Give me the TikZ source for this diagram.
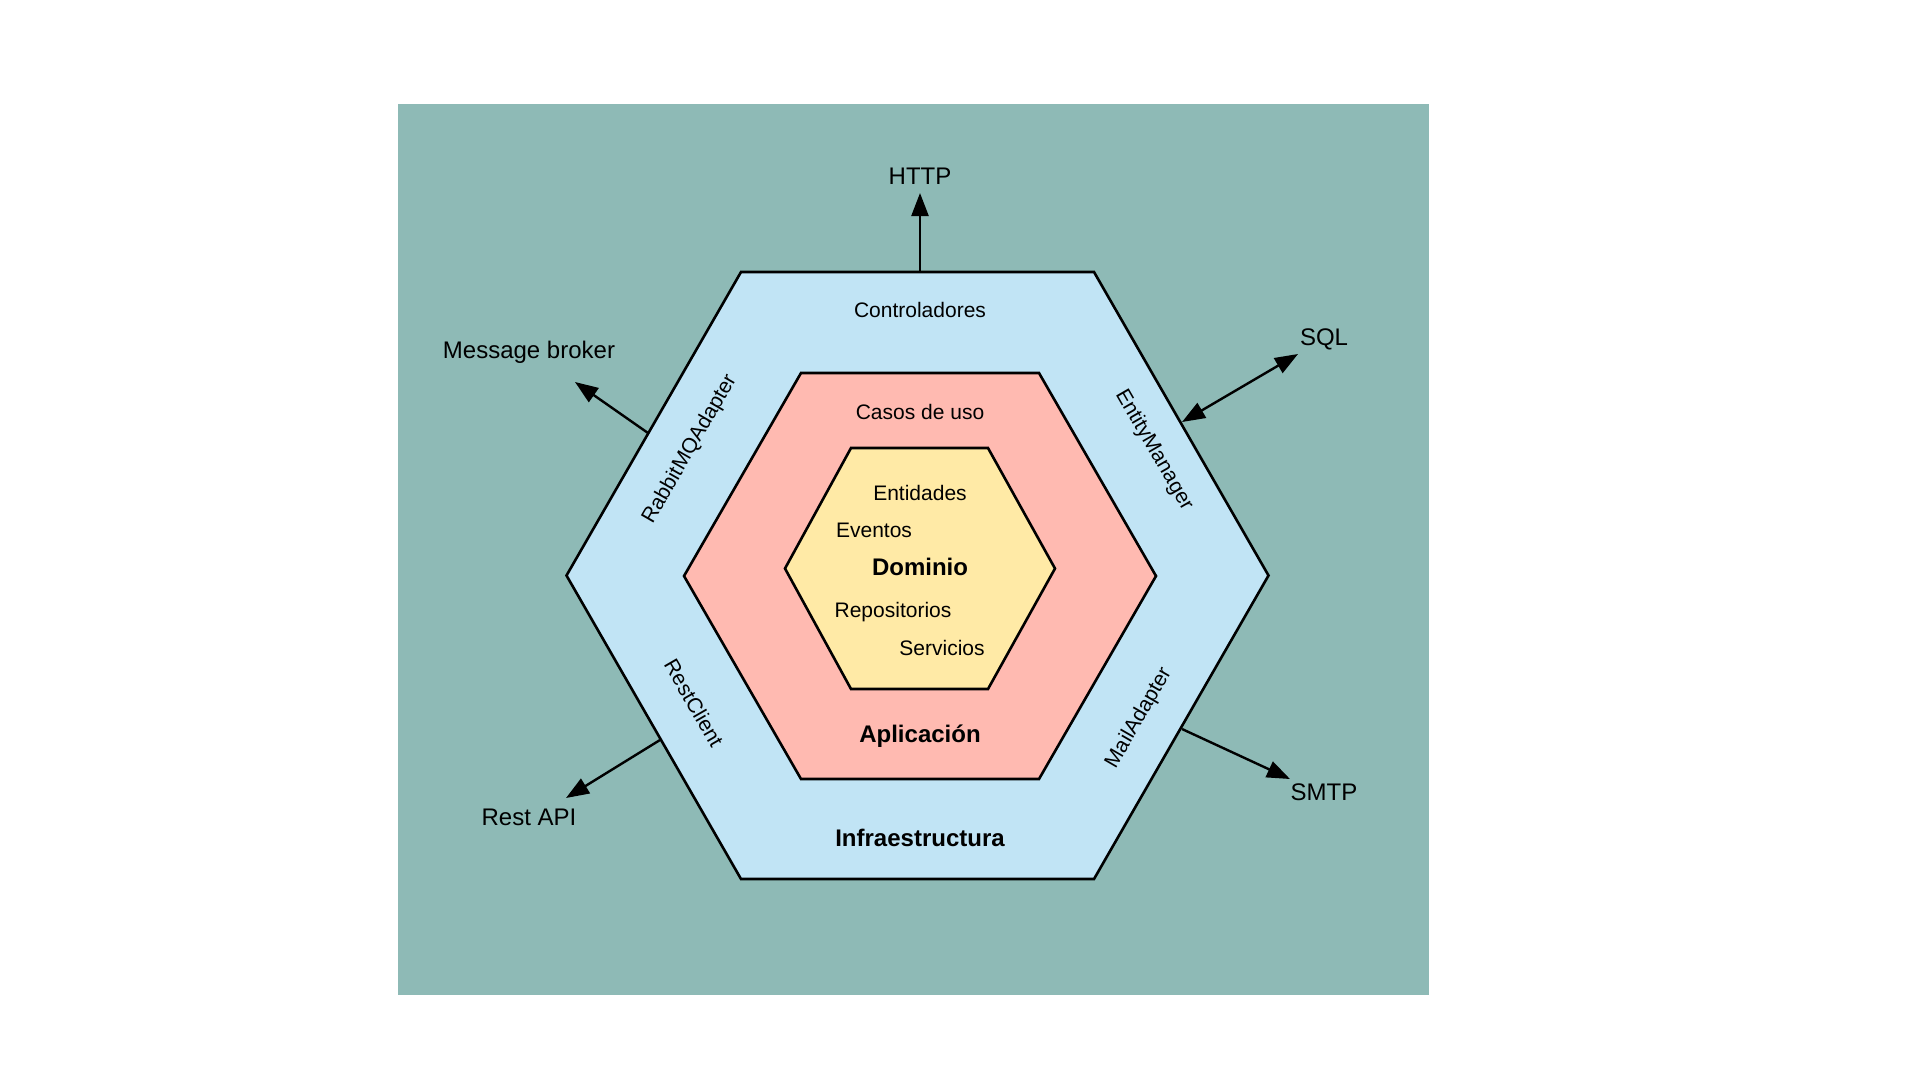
\documentclass[tikz,border=0pt]{standalone}
\usepackage{fontspec}
\setmainfont{Liberation Sans}
\usetikzlibrary{arrows.meta}
\definecolor{bgteal}{RGB}{142,186,182}
\definecolor{infrablue}{RGB}{193,228,245}
\definecolor{apppink}{RGB}{255,186,177}
\definecolor{domyellow}{RGB}{255,234,166}
\begin{document}
\begin{tikzpicture}[x=1bp,y=-1bp,
  hexline/.style={draw=black, line width=2.6bp, line join=miter},
  lbl/.style={font=\fontsize{21bp}{25bp}\selectfont, inner sep=0pt},
  blbl/.style={font=\fontsize{24bp}{29bp}\selectfont\bfseries, inner sep=0pt},
  olbl/.style={font=\fontsize{24bp}{29bp}\selectfont, inner sep=0pt},
  conn/.style={line width=2.4bp, -{Triangle[length=23bp,width=17bp]}},
  conn2/.style={line width=2.4bp, {Triangle[length=23bp,width=17bp]}-{Triangle[length=23bp,width=17bp]}},
]
\useasboundingbox (0,0) rectangle (1920,1080);
\fill[bgteal] (398,104) rectangle (1429,995);

% hexagons
\filldraw[hexline, fill=infrablue] (741,272) -- (1094,272) -- (1268.5,575.5) -- (1094,879) -- (741,879) -- (566.5,575.5) -- cycle;
\filldraw[hexline, fill=apppink] (801,373) -- (1039,373) -- (1156,576) -- (1039,779) -- (801,779) -- (684,576) -- cycle;
\filldraw[hexline, fill=domyellow] (851,448) -- (988,448) -- (1055,568.5) -- (988,689) -- (851,689) -- (785,568.5) -- cycle;

% layer labels
\node[lbl] (ctrl) at (920,310) {Controladores};
\node[lbl] (casos) at (920,412) {Casos de uso};
\node[lbl] (ent) at (920,493) {Entidades};
\node[lbl] (evt) at (874,530) {Eventos};
\node[blbl] (dom) at (920,567) {Dominio};
\node[lbl] (repo) at (893,612) {Repositorios};
\node[lbl] (serv) at (942,648) {Servicios};
\node[blbl] (app) at (920,736) {Aplicación};
\node[blbl] (infra) at (920,838) {Infraestructura};

% adapters
\node[lbl, rotate=60] (rabbit) at (690,449) {RabbitMQAdapter};
\node[lbl, rotate=-60] (entity) at (1154,450) {EntityManager};
\node[lbl, rotate=-60] (rest) at (694,703) {RestClient};
\node[lbl, rotate=60] (mail) at (1139,718) {MailAdapter};

% external labels
\node[olbl] (http) at (920,176) {HTTP};
\node[olbl] (broker) at (529,352) {Message broker};
\node[olbl] (sql) at (1324,339) {SQL};
\node[olbl] (restapi) at (529,817) {Rest API};
\node[olbl] (smtp) at (1324,792) {SMTP};

% connectors
\coordinate (httpS) at (920,272);
\coordinate (httpE) at (920,193);
\coordinate (brokS) at (648,433);
\coordinate (brokE) at (575,382);
\coordinate (sqlS) at (1182,422);
\coordinate (sqlE) at (1298,354);
\coordinate (restS) at (660,740);
\coordinate (restE) at (566,798);
\coordinate (smtpS) at (1182,729);
\coordinate (smtpE) at (1290,779);

\draw[conn] (httpS) -- (httpE);
\draw[conn] (brokS) -- (brokE);
\draw[conn2] (sqlS) -- (sqlE);
\draw[conn] (restS) -- (restE);
\draw[conn] (smtpS) -- (smtpE);
\end{tikzpicture}
\end{document}
